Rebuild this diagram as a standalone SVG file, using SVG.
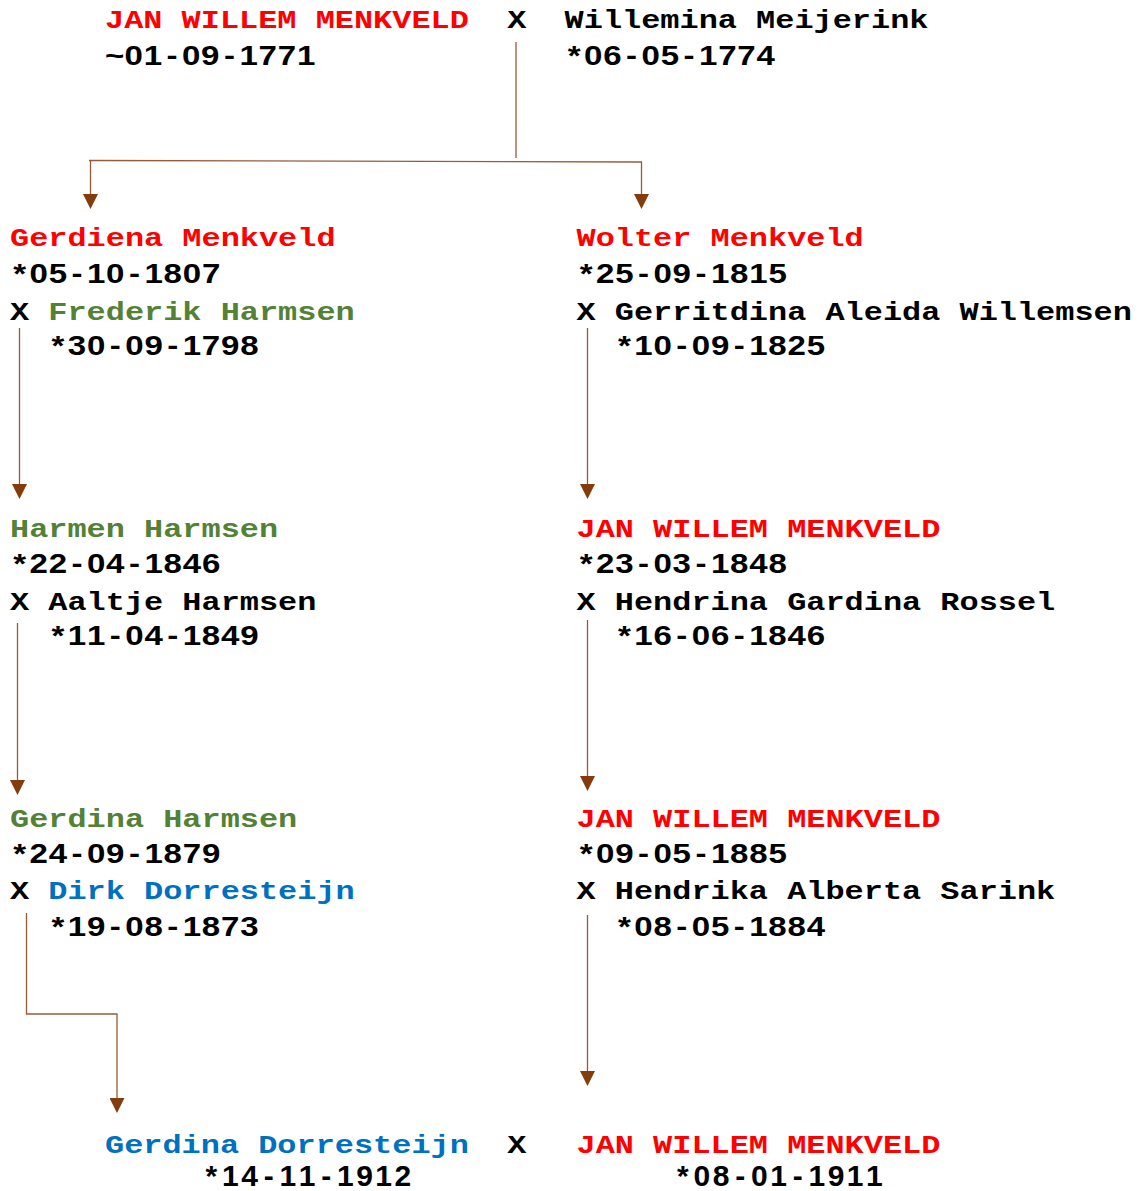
<svg xmlns="http://www.w3.org/2000/svg" width="1144" height="1191" viewBox="0 0 1144 1191">
<style>
.n{font-family:"Liberation Mono","DejaVu Sans Mono",monospace;font-weight:bold;font-size:26px}
.d{font-family:"Liberation Sans",Arial,sans-serif;font-weight:bold;font-size:28px;text-anchor:middle;fill:#000}
.db{font-size:30px}
.red{fill:#ff0000}.grn{fill:#538135}.blu{fill:#0070c0}.blk{fill:#000}
.c{fill:none;stroke:#9a5a38;stroke-width:1.3}
</style>
<defs>
<marker id="ah" viewBox="0 0 15 15" markerWidth="15" markerHeight="15" refX="0" refY="7.5" orient="auto" markerUnits="userSpaceOnUse">
<path d="M0,0 L15,7.5 L0,15 Z" fill="#843c0c"/>
</marker>
</defs>
<rect width="1144" height="1191" fill="#fff"/>

<g id="connectors">
<path class="c" d="M516,42 V158"/>
<path class="c" d="M89,160.5 L642,162"/>
<path class="c" d="M90.5,161 V194" marker-end="url(#ah)"/>
<path class="c" d="M641.5,162 V194" marker-end="url(#ah)"/>
<path class="c" d="M19.5,328 V484" marker-end="url(#ah)"/>
<path class="c" d="M587.5,328 V484" marker-end="url(#ah)"/>
<path class="c" d="M17.5,623 V780" marker-end="url(#ah)"/>
<path class="c" d="M587.5,620 V776" marker-end="url(#ah)"/>
<path class="c" d="M26.5,913 V1014 H117 V1098" marker-end="url(#ah)"/>
<path class="c" d="M587.5,915 V1071" marker-end="url(#ah)"/>
</g>

<g id="couple-1771">
<text class="n red" x="105" y="28" textLength="363.85" lengthAdjust="spacingAndGlyphs">JAN WILLEM MENKVELD</text>
<text class="n blk" x="507.2" y="28" textLength="19.15" lengthAdjust="spacingAndGlyphs">X</text>
<text class="n blk" x="564.6" y="28" textLength="363.85" lengthAdjust="spacingAndGlyphs">Willemina Meijerink</text>
<text class="d" transform="translate(105,0) scale(1.18,1)" x="8.11 24.34 40.57 56.80 73.03 89.26 105.49 121.72 137.94 154.17 170.40" y="65">~01-09-1771</text>
<text class="d" transform="translate(564.6,0) scale(1.18,1)" x="8.11 24.34 40.57 56.80 73.03 89.26 105.49 121.72 137.94 154.17 170.40" y="65">*06-05-1774</text>
</g>

<g id="gerdiena-menkveld">
<text class="n red" x="10" y="246" textLength="325.55" lengthAdjust="spacingAndGlyphs">Gerdiena Menkveld</text>
<text class="d" transform="translate(10,0) scale(1.18,1)" x="8.11 24.34 40.57 56.80 73.03 89.26 105.49 121.72 137.94 154.17 170.40" y="283.5">*05-10-1807</text>
<text class="n blk" x="10" y="319.5" textLength="19.15" lengthAdjust="spacingAndGlyphs">X</text>
<text class="n grn" x="48.3" y="319.5" textLength="306.4" lengthAdjust="spacingAndGlyphs">Frederik Harmsen</text>
<text class="d" transform="translate(48.3,0) scale(1.18,1)" x="8.11 24.34 40.57 56.80 73.03 89.26 105.49 121.72 137.94 154.17 170.40" y="355">*30-09-1798</text>
</g>

<g id="wolter-menkveld">
<text class="n red" x="576.5" y="246" textLength="287.25" lengthAdjust="spacingAndGlyphs">Wolter Menkveld</text>
<text class="d" transform="translate(576.5,0) scale(1.18,1)" x="8.11 24.34 40.57 56.80 73.03 89.26 105.49 121.72 137.94 154.17 170.40" y="283.5">*25-09-1815</text>
<text class="n blk" x="576.5" y="319.5" textLength="19.15" lengthAdjust="spacingAndGlyphs">X</text>
<text class="n blk" x="614.8" y="319.5" textLength="517.05" lengthAdjust="spacingAndGlyphs">Gerritdina Aleida Willemsen</text>
<text class="d" transform="translate(614.8,0) scale(1.18,1)" x="8.11 24.34 40.57 56.80 73.03 89.26 105.49 121.72 137.94 154.17 170.40" y="355">*10-09-1825</text>
</g>

<g id="harmen-harmsen">
<text class="n grn" x="10" y="536.5" textLength="268.1" lengthAdjust="spacingAndGlyphs">Harmen Harmsen</text>
<text class="d" transform="translate(10,0) scale(1.18,1)" x="8.11 24.34 40.57 56.80 73.03 89.26 105.49 121.72 137.94 154.17 170.40" y="573">*22-04-1846</text>
<text class="n blk" x="10" y="610" textLength="19.15" lengthAdjust="spacingAndGlyphs">X</text>
<text class="n blk" x="48.3" y="610" textLength="268.1" lengthAdjust="spacingAndGlyphs">Aaltje Harmsen</text>
<text class="d" transform="translate(48.3,0) scale(1.18,1)" x="8.11 24.34 40.57 56.80 73.03 89.26 105.49 121.72 137.94 154.17 170.40" y="645">*11-04-1849</text>
</g>

<g id="jan-willem-1848">
<text class="n red" x="576.5" y="536.5" textLength="363.85" lengthAdjust="spacingAndGlyphs">JAN WILLEM MENKVELD</text>
<text class="d" transform="translate(576.5,0) scale(1.18,1)" x="8.11 24.34 40.57 56.80 73.03 89.26 105.49 121.72 137.94 154.17 170.40" y="573">*23-03-1848</text>
<text class="n blk" x="576.5" y="610" textLength="19.15" lengthAdjust="spacingAndGlyphs">X</text>
<text class="n blk" x="614.8" y="610" textLength="440.45" lengthAdjust="spacingAndGlyphs">Hendrina Gardina Rossel</text>
<text class="d" transform="translate(614.8,0) scale(1.18,1)" x="8.11 24.34 40.57 56.80 73.03 89.26 105.49 121.72 137.94 154.17 170.40" y="645">*16-06-1846</text>
</g>

<g id="gerdina-harmsen">
<text class="n grn" x="10" y="826.5" textLength="287.25" lengthAdjust="spacingAndGlyphs">Gerdina Harmsen</text>
<text class="d" transform="translate(10,0) scale(1.18,1)" x="8.11 24.34 40.57 56.80 73.03 89.26 105.49 121.72 137.94 154.17 170.40" y="863">*24-09-1879</text>
<text class="n blk" x="10" y="899" textLength="19.15" lengthAdjust="spacingAndGlyphs">X</text>
<text class="n blu" x="48.3" y="899" textLength="306.4" lengthAdjust="spacingAndGlyphs">Dirk Dorresteijn</text>
<text class="d" transform="translate(48.3,0) scale(1.18,1)" x="8.11 24.34 40.57 56.80 73.03 89.26 105.49 121.72 137.94 154.17 170.40" y="936.5">*19-08-1873</text>
</g>

<g id="jan-willem-1885">
<text class="n red" x="576.5" y="826.5" textLength="363.85" lengthAdjust="spacingAndGlyphs">JAN WILLEM MENKVELD</text>
<text class="d" transform="translate(576.5,0) scale(1.18,1)" x="8.11 24.34 40.57 56.80 73.03 89.26 105.49 121.72 137.94 154.17 170.40" y="863">*09-05-1885</text>
<text class="n blk" x="576.5" y="899" textLength="19.15" lengthAdjust="spacingAndGlyphs">X</text>
<text class="n blk" x="614.8" y="899" textLength="440.45" lengthAdjust="spacingAndGlyphs">Hendrika Alberta Sarink</text>
<text class="d" transform="translate(614.8,0) scale(1.18,1)" x="8.11 24.34 40.57 56.80 73.03 89.26 105.49 121.72 137.94 154.17 170.40" y="936.5">*08-05-1884</text>
</g>

<g id="couple-1912">
<text class="n blu" x="105" y="1152.5" textLength="363.85" lengthAdjust="spacingAndGlyphs">Gerdina Dorresteijn</text>
<text class="n blk" x="507.2" y="1152.5" textLength="19.15" lengthAdjust="spacingAndGlyphs">X</text>
<text class="n red" x="576.5" y="1152.5" textLength="363.85" lengthAdjust="spacingAndGlyphs">JAN WILLEM MENKVELD</text>
<text class="d db" x="211.3 230.4 249.6 268.7 287.9 307.0 326.2 345.3 364.5 383.6 402.8" y="1186">*14-11-1912</text>
<text class="d db" x="682.8 701.9 721.1 740.2 759.4 778.5 797.7 816.8 836.0 855.1 874.3" y="1186">*08-01-1911</text>
</g>
</svg>
